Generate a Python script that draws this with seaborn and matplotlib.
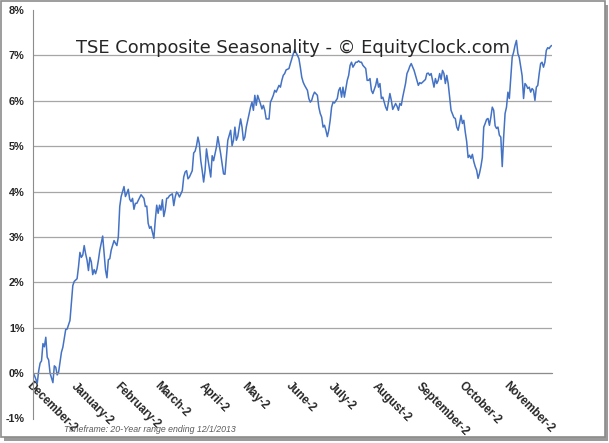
"""TSE Composite seasonality chart (EquityClock style), saved as out.png."""
import matplotlib

matplotlib.use("Agg")
import matplotlib.pyplot as plt
import pandas as pd
import seaborn as sns
from matplotlib.patches import Rectangle
from matplotlib.ticker import FixedLocator

# days since December 2 (start of the seasonal year)
DAYS = [
    0, 1, 3, 4, 5, 6, 7, 8, 9, 10, 11, 12, 14, 15, 16, 17, 18, 20, 21, 23,
    24, 26, 27, 28, 29, 30, 31, 32, 33, 34, 35, 36, 37, 38, 39, 40, 41, 42, 43, 44,
    45, 46, 47, 49, 50, 51, 52, 53, 54, 55, 57, 58, 59, 60, 61, 62, 64, 65, 66, 67,
    68, 69, 70, 71, 72, 73, 75, 76, 78, 79, 80, 81, 82, 83, 85, 86, 87, 88, 89, 90,
    91, 92, 93, 94, 95, 96, 98, 99, 100, 101, 102, 103, 105, 106, 107, 108, 109, 110, 112, 113,
    114, 115, 116, 117, 118, 119, 120, 121, 122, 123, 125, 126, 127, 128, 129, 130, 132, 133, 134, 135,
    136, 137, 139, 140, 141, 142, 143, 144, 146, 147, 148, 149, 150, 151, 153, 154, 155, 156, 157, 158,
    160, 161, 162, 163, 164, 166, 167, 168, 169, 170, 171, 173, 174, 175, 176, 177, 178, 180, 181, 183,
    184, 186, 187, 188, 189, 190, 191, 193, 194, 195, 196, 197, 198, 200, 201, 202, 203, 204, 205, 206,
    207, 208, 209, 210, 211, 212, 214, 215, 216, 217, 218, 219, 221, 222, 223, 224, 225, 227, 228, 229,
    230, 231, 232, 234, 235, 236, 237, 238, 239, 241, 242, 243, 244, 245, 246, 248, 249, 250, 251, 252,
    253, 255, 256, 257, 258, 259, 260, 262, 263, 264, 265, 266, 268, 269, 270, 271, 272, 273, 274, 276,
    277, 278, 279, 280, 282, 283, 284, 285, 286, 287, 288, 289, 290, 291, 292, 293, 294, 296, 297, 298,
    299, 300, 301, 302, 303, 304, 305, 306, 307, 308, 309, 310, 311, 312, 313, 314, 315, 316, 317, 318,
    319, 320, 321, 322, 323, 324, 325, 326, 327, 328, 329, 330, 331, 332, 333, 334, 335, 336, 337, 338,
    339, 340, 341, 342, 343, 344, 345, 346, 347, 348, 349, 350, 351, 352, 353, 354, 355, 356, 357, 358,
    359, 360, 361, 362, 363, 364, 365,
]
# average cumulative return, percent
RETURNS = [
    0.00, -0.05, -0.22, 0.05, 0.22, 0.27, 0.65, 0.58, 0.79, 0.35, 0.29, 0.00, -0.21, 0.16, 0.13, -0.04, 0.02, 0.46, 0.57, 0.96,
    0.97, 1.16, 1.56, 1.93, 2.02, 2.05, 2.08, 2.34, 2.66, 2.55, 2.60, 2.81, 2.63, 2.49, 2.26, 2.55, 2.45, 2.17, 2.28, 2.19,
    2.30, 2.49, 2.71, 3.02, 2.63, 2.27, 2.10, 2.50, 2.52, 2.71, 2.92, 2.86, 2.81, 3.00, 3.67, 3.89, 4.11, 3.89, 3.96, 4.05,
    3.83, 3.78, 3.85, 3.61, 3.74, 3.74, 3.87, 3.93, 3.85, 3.67, 3.68, 3.30, 3.19, 3.23, 2.97, 3.37, 3.70, 3.52, 3.70, 3.59,
    3.82, 3.45, 3.60, 3.85, 3.86, 3.91, 3.95, 3.69, 3.88, 3.99, 3.95, 3.88, 4.02, 4.32, 4.43, 4.46, 4.28, 4.32, 4.46, 4.85,
    4.89, 5.01, 5.20, 5.05, 4.68, 4.46, 4.21, 4.46, 4.94, 4.72, 4.32, 4.79, 4.68, 4.83, 4.98, 5.21, 4.83, 4.61, 4.39, 4.38,
    4.76, 5.13, 5.35, 5.01, 5.13, 5.42, 5.13, 5.21, 5.60, 5.42, 5.13, 5.20, 5.42, 5.57, 5.86, 5.97, 5.79, 6.12, 5.90, 6.12,
    5.93, 5.82, 5.90, 5.79, 5.60, 5.60, 5.97, 6.04, 6.12, 6.23, 6.19, 6.34, 6.30, 6.45, 6.56, 6.60, 6.68, 6.71, 6.82, 7.03,
    7.12, 7.00, 6.93, 6.74, 6.52, 6.41, 6.34, 6.23, 6.05, 5.97, 6.01, 6.12, 6.19, 6.12, 5.86, 5.72, 5.64, 5.42, 5.46, 5.35,
    5.21, 5.35, 5.57, 5.86, 5.97, 5.95, 6.05, 6.23, 6.29, 6.08, 6.30, 6.08, 6.45, 6.56, 6.78, 6.85, 6.74, 6.85, 6.85, 6.88,
    6.85, 6.85, 6.78, 6.71, 6.45, 6.45, 6.49, 6.23, 6.16, 6.34, 6.49, 6.30, 6.38, 6.05, 6.08, 5.86, 5.79, 5.97, 6.16, 6.01,
    5.81, 5.94, 5.88, 5.79, 5.94, 5.90, 6.08, 6.38, 6.60, 6.67, 6.76, 6.82, 6.67, 6.56, 6.45, 6.34, 6.40, 6.38, 6.41, 6.47,
    6.60, 6.61, 6.56, 6.60, 6.30, 6.49, 6.38, 6.45, 6.60, 6.47, 6.67, 6.60, 6.38, 6.56, 6.38, 6.08, 5.79, 5.63, 5.61, 5.42,
    5.35, 5.50, 5.68, 5.50, 5.57, 5.31, 5.10, 4.75, 4.80, 4.73, 4.82, 4.66, 4.55, 4.47, 4.29, 4.40, 4.55, 4.75, 5.42, 5.50,
    5.59, 5.61, 5.46, 5.64, 5.86, 5.79, 5.45, 5.39, 5.42, 5.24, 5.20, 4.55, 5.20, 5.72, 5.86, 6.19, 6.05, 6.52, 6.96, 7.07,
    7.22, 7.33, 7.04, 6.95, 6.75, 6.55, 6.05, 6.38, 6.34, 6.27, 6.30, 6.19, 6.27, 6.23, 6.01, 6.30, 6.34, 6.60, 6.82, 6.85,
    6.74, 6.85, 7.11, 7.17, 7.15, 7.20, 7.22,
]
MONTH_LABELS = [
    "December-2", "January-2", "February-2", "March-2", "April-2", "May-2",
    "June-2", "July-2", "August-2", "September-2", "October-2", "November-2", "",
]
Y_TICKS = [-1, 0, 1, 2, 3, 4, 5, 6, 7, 8]
TITLE = "TSE Composite Seasonality - \u00a9 EquityClock.com"
FOOTNOTE = "Timeframe: 20-Year range ending 12/1/2013"

W, H = 609, 443


def main() -> None:
    sns.set_style("white")
    plt.rcParams["font.family"] = ["Liberation Sans", "DejaVu Sans"]

    df = pd.DataFrame({"day": DAYS, "ret": RETURNS})
    start = pd.Timestamp("2012-12-02")
    month_ticks = pd.date_range("2012-12-01", periods=13, freq="MS") + pd.Timedelta(days=1)
    tick_days = [(d - start).days for d in month_ticks]

    fig = plt.figure(figsize=(W / 100, H / 100), dpi=100)

    # picture frame with a little drop shadow, like the blog screenshot
    fig.patches.append(Rectangle((4 / W, 1 - 441 / H), 604 / W, 436 / H, zorder=-2,
                                 transform=fig.transFigure, fc="#9a9a9a", ec="none"))
    fig.patches.append(Rectangle((0.5 / W, 1 - 437 / H), 604 / W, 436.5 / H, zorder=-1,
                                 transform=fig.transFigure, fc="white", ec="#8c8c8c", lw=1.2))

    ax = fig.add_axes([33 / W, 1 - 418.5 / H, 519 / W, 408.5 / H])
    ax.patch.set_alpha(0)
    sns.lineplot(data=df, x="day", y="ret", ax=ax, color="#4472C4", lw=1.1)

    ax.set_xlim(0, 365)
    ax.set_ylim(-1, 8)
    ax.set_xlabel(""); ax.set_ylabel("")

    # spine placement resets tick labels, so do it before styling them
    for side in ("top", "right"):
        ax.spines[side].set_visible(False)
    ax.spines["bottom"].set_position(("data", 0))
    ax.spines["bottom"].set_color("#8c8c8c")
    ax.spines["left"].set_color("#8c8c8c")

    ax.grid(axis="y", color="#a6a6a6", lw=0.9)
    ax.set_yticks(Y_TICKS)
    ax.set_yticklabels([f"{v}%" for v in Y_TICKS], fontsize=7.8, fontweight="bold")
    for gl, v in zip(ax.get_ygridlines(), Y_TICKS):
        gl.set_visible(v not in (-1, 8))

    ax.xaxis.set_major_locator(FixedLocator(tick_days))
    ax.set_xticklabels(MONTH_LABELS, rotation=-45, ha="left", va="top",
                       rotation_mode="anchor", fontsize=8.3, fontweight="bold")

    ax.tick_params(axis="both", direction="out", length=3, width=0.8, color="#8c8c8c")
    ax.tick_params(axis="x", pad=2)
    ax.tick_params(axis="y", pad=3)

    ax.text(0.5, (418.5 - 52.7) / 408.5, TITLE, transform=ax.transAxes, ha="center",
            va="baseline", fontsize=12.9, family="DejaVu Sans")
    fig.text(64 / W, 1 - 432 / H, FOOTNOTE, fontsize=6.35, style="italic",
             color="#595959", va="baseline")

    fig.savefig("out.png", dpi=100)
    plt.close(fig)


if __name__ == "__main__":
    main()
